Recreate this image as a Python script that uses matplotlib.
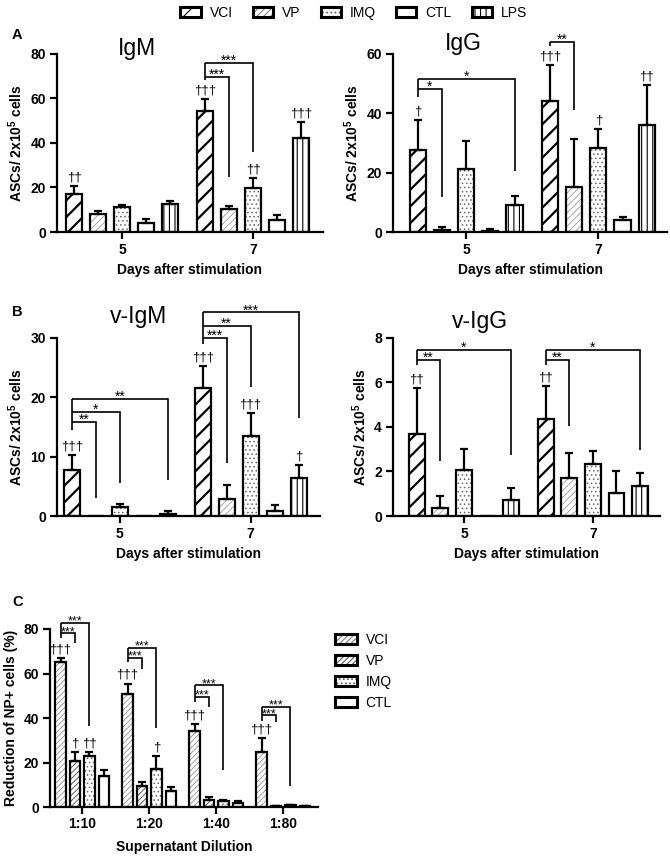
import matplotlib
matplotlib.use('Agg')
import matplotlib.pyplot as plt
import numpy as np
from matplotlib.patches import Patch
from matplotlib.legend_handler import HandlerTuple

plt.rcParams['font.family'] = ['Liberation Sans', 'DejaVu Sans']
plt.rcParams['mathtext.fontset'] = 'custom'
plt.rcParams['mathtext.rm'] = 'Liberation Sans'
plt.rcParams['mathtext.bf'] = 'Liberation Sans:bold'
plt.rcParams['hatch.linewidth'] = 0.8

# ---------------- data ----------------
series_ab = ['VCI', 'VP', 'IMQ', 'CTL', 'LPS']
days = ['5', '7']

igm_mean = [[17.0, 8.0, 11.3, 4.0, 12.7], [54.5, 10.5, 19.7, 5.2, 42.3]]
igm_err = [[3.5, 1.3, 0.8, 2.0, 1.3], [5.2, 1.3, 4.6, 2.6, 7.1]]

igg_mean = [[27.5, 0.8, 21.2, 0.5, 9.0], [44.0, 15.0, 28.3, 4.0, 35.9]]
igg_err = [[10.3, 1.0, 9.6, 0.5, 3.2], [12.3, 16.4, 6.4, 1.2, 13.6]]

vigm_mean = [[7.8, 0.0, 1.5, 0.0, 0.4], [21.5, 2.8, 13.5, 0.8, 6.4]]
vigm_err = [[2.4, 0.0, 0.5, 0.0, 0.5], [3.8, 2.4, 3.8, 1.0, 2.2]]

vigg_mean = [[3.7, 0.35, 2.05, 0.0, 0.7], [4.35, 1.7, 2.35, 1.03, 1.35]]
vigg_err = [[2.05, 0.55, 0.95, 0.0, 0.55], [1.5, 1.13, 0.57, 0.97, 0.57]]

series_c = ['VCI', 'VP', 'IMQ', 'CTL']
dilutions = ['1:10', '1:20', '1:40', '1:80']
red_mean = [[65.0, 20.7, 23.0, 13.8], [51.0, 9.3, 17.3, 7.3],
            [34.0, 3.0, 2.7, 2.0], [24.8, 0.3, 0.7, 0.4]]
red_err = [[2.0, 3.9, 1.8, 2.7], [4.5, 2.0, 5.7, 1.5],
           [3.3, 1.6, 0.5, 0.8], [6.2, 0.15, 0.2, 0.15]]

# daggers: (group, series, text)
igm_dag = [(0, 0, '††'), (1, 0, '†††'), (1, 2, '††'), (1, 4, '†††')]
igg_dag = [(0, 0, '†'), (1, 0, '†††'), (1, 2, '†'), (1, 4, '††')]
vigm_dag = [(0, 0, '†††'), (1, 0, '†††'), (1, 2, '†††'), (1, 4, '†')]
vigg_dag = [(0, 0, '††'), (1, 0, '††')]
red_dag = [(0, 0, '†††'), (0, 1, '†'), (0, 2, '††'), (1, 0, '†††'), (1, 2, '†'),
           (2, 0, '†††'), (3, 0, '†††')]

# brackets: (group, target series, level, right end, label); left drops: (group, low)
igm_br = [(1, 1, 69.6, 24.8, '***'), (1, 2, 76.0, 36.0, '***')]
igm_low = [(1, 68.4)]
igg_br = [(0, 1, 48.2, 11.8, '*'), (0, 4, 51.6, 20.5, '*'), (1, 1, 64.2, 41.1, '**')]
igg_low = [(0, 45.4), (1, 62.8)]
vigm_br = [(0, 1, 15.8, 3.0, '**'), (0, 2, 17.6, 5.5, '*'), (0, 4, 19.7, 6.1, '**'),
           (1, 1, 30.0, 8.9, '***'), (1, 2, 32.0, 21.8, '**'), (1, 4, 34.3, 16.5, '***')]
vigm_low = [(0, 14.5), (1, 29.0)]
vigg_br = [(0, 1, 7.0, 2.45, '**'), (0, 4, 7.47, 2.75, '*'),
           (1, 1, 7.0, 4.05, '**'), (1, 4, 7.47, 2.95, '*')]
vigg_low = [(0, 6.8), (1, 6.8)]
red_br = [(0, 1, 78.0, 73.7, '***'), (0, 2, 82.8, 36.3, '***'),
          (1, 1, 67.0, 62.2, '***'), (1, 2, 71.5, 35.5, '***'),
          (2, 1, 49.6, 45.0, '***'), (2, 2, 54.8, 16.8, '***'),
          (3, 1, 41.3, 38.3, '***'), (3, 2, 45.1, 9.3, '***')]
red_low = [(0, 76.0), (1, 65.0), (2, 47.3), (3, 38.5)]

# ---------------- styles ----------------
LW = 1.6
style_ab = {
    'VCI': dict(hatch='//', hc='black', hlw=1.6),
    'VP': dict(hatch='/////', hc='#8a8a8a', hlw=0.5),
    'IMQ': dict(hatch='....', hc='#666666', hlw=0.6),
    'CTL': dict(hatch=None, hc='black', hlw=0.5),
    'LPS': dict(hatch='|||', hc='black', hlw=0.8),
}
style_c = {
    'VCI': dict(hatch='//////', hc='#808080', hlw=0.5),
    'VP': dict(hatch='//////', hc='#606060', hlw=0.7),
    'IMQ': dict(hatch='....', hc='#666666', hlw=0.6),
    'CTL': dict(hatch=None, hc='black', hlw=0.5),
}


def set_hlw(patch, lw):
    if hasattr(patch, 'set_hatch_linewidth'):
        patch.set_hatch_linewidth(lw)


def draw_panel(ax, means, errs, names, styles, offsets, width):
    ng = len(means)
    for s, name in enumerate(names):
        st = styles[name]
        xs = np.arange(ng) + offsets[s]
        vals = np.array([means[g][s] for g in range(ng)])
        es = np.array([errs[g][s] for g in range(ng)])
        if st['hatch']:
            bars = ax.bar(xs, vals, width, color='white', edgecolor=st['hc'],
                          hatch=st['hatch'], linewidth=0, zorder=2)
            for p in bars:
                set_hlw(p, st['hlw'])
        else:
            ax.bar(xs, vals, width, color='white', linewidth=0, zorder=2)
        ax.bar(xs, vals, width, fill=False, edgecolor='black', linewidth=LW, zorder=3)
        m = es > 0
        ax.errorbar(xs[m], vals[m], yerr=[np.zeros(m.sum()), es[m]], fmt='none',
                    ecolor='black', elinewidth=LW, capsize=3.2, capthick=LW, zorder=4)


def draw_daggers(ax, means, errs, offsets, dags, fs=9.5):
    for g, s, t in dags:
        x = g + offsets[s]
        y = means[g][s] + errs[g][s]
        ax.annotate(t, xy=(x, y), xytext=(0, 2), textcoords='offset points',
                    ha='center', va='bottom', fontsize=fs, annotation_clip=False)


def draw_brackets(ax, offsets, brs, lows, fs=10):
    for g, low in lows:
        top = max(b[2] for b in brs if b[0] == g)
        x0 = g + offsets[0]
        ax.plot([x0, x0], [low, top], color='black', lw=1.2, clip_on=False,
                solid_capstyle='butt')
    for g, t, h, e, lab in brs:
        x0 = g + offsets[0]
        x1 = g + offsets[t]
        ax.plot([x0, x1, x1], [h, h, e], color='black', lw=1.2, clip_on=False,
                solid_capstyle='butt', solid_joinstyle='miter')
        ax.annotate(lab, xy=((x0 + x1) / 2, h), xytext=(0, -3.5), textcoords='offset points',
                    ha='center', va='bottom', fontsize=fs, annotation_clip=False)


def style_axes(ax, xlim, ylim, yticks, xticks, xlabels):
    ax.set_xlim(*xlim)
    ax.set_ylim(*ylim)
    ax.set_yticks(yticks)
    ax.set_xticks(xticks)
    ax.set_xticklabels(xlabels)
    for sp in ['top', 'right']:
        ax.spines[sp].set_visible(False)
    for sp in ['left', 'bottom']:
        ax.spines[sp].set_linewidth(1.6)
    ax.tick_params(axis='both', direction='out', length=5, width=1.6, labelsize=10, pad=3)
    for lab in ax.get_xticklabels() + ax.get_yticklabels():
        lab.set_fontweight('bold')


fig = plt.figure(figsize=(6.7, 8.58), dpi=100)

off_ab = (np.arange(5) - 2) * 0.183
w_ab = 0.122
off_c = (np.arange(4) - 1.5) * 0.215
w_c = 0.155

ylab = r'ASCs/ 2x10$^{\mathbf{5}}$ cells'

panels = [
    ([0.085, 0.7296, 0.397, 0.2075], igm_mean, igm_err, igm_dag, igm_br, igm_low,
     (-0.496, 1.53), (0, 80), [0, 20, 40, 60, 80], 'IgM', (0.23, 1.03)),
    ([0.5866, 0.7296, 0.409, 0.2075], igg_mean, igg_err, igg_dag, igg_br, igg_low,
     (-0.553, 1.52), (0, 60), [0, 20, 40, 60], 'IgG', (0.19, 1.06)),
    ([0.085, 0.3986, 0.3926, 0.2075], vigm_mean, vigm_err, vigm_dag, vigm_br, vigm_low,
     (-0.48, 1.53), (0, 30), [0, 10, 20, 30], 'v-IgM', (0.2, 1.118)),
    ([0.5866, 0.3986, 0.3984, 0.2075], vigg_mean, vigg_err, vigg_dag, vigg_br, vigg_low,
     (-0.55, 1.52), (0, 8), [0, 2, 4, 6, 8], 'v-IgG', (0.22, 1.095)),
]

for rect, mean, err, dag, br, low, xl, yl, yt, title, tpos in panels:
    ax = fig.add_axes(rect)
    draw_panel(ax, mean, err, series_ab, style_ab, off_ab, w_ab)
    draw_daggers(ax, mean, err, off_ab, dag)
    draw_brackets(ax, off_ab, br, low)
    style_axes(ax, xl, yl, yt, [0, 1], days)
    ax.set_xlabel('Days after stimulation', fontsize=10, fontweight='bold', labelpad=4)
    ax.set_ylabel(ylab, fontsize=10, fontweight='bold', labelpad=4)
    ax.text(tpos[0], tpos[1], title, transform=ax.transAxes, fontsize=16.5,
            ha='left', va='center')

axc = fig.add_axes([0.0746, 0.0594, 0.4, 0.2075])
draw_panel(axc, red_mean, red_err, series_c, style_c, off_c, w_c)
draw_daggers(axc, red_mean, red_err, off_c, red_dag)
draw_brackets(axc, off_c, red_br, red_low, fs=9)
style_axes(axc, (-0.48, 3.52), (0, 80), [0, 20, 40, 60, 80], [0, 1, 2, 3], dilutions)
axc.tick_params(axis='x', pad=2)
axc.set_xlabel('Supernatant Dilution', fontsize=10, fontweight='bold', labelpad=7)
axc.set_ylabel('Reduction of NP+ cells (%)', fontsize=10, fontweight='bold', labelpad=4)

# panel letters
for lab, y in [('A', 35), ('B', 312), ('C', 602)]:
    fig.text(12 / 670, 1 - y / 858, lab, fontsize=10.5, fontweight='bold', ha='left', va='center')


def make_handle(st):
    parts = []
    if st['hatch']:
        p = Patch(facecolor='white', edgecolor=st['hc'], hatch=st['hatch'], linewidth=0)
        set_hlw(p, st['hlw'])
        parts.append(p)
    parts.append(Patch(facecolor='none', edgecolor='black', linewidth=2.2))
    return tuple(parts)


top_handles = [make_handle(style_ab[n]) for n in series_ab]
fig.legend(top_handles, series_ab, loc='center', bbox_to_anchor=(0.528, 1 - 13 / 858),
           ncol=5, frameon=False, fontsize=10, handlelength=1.45, handleheight=0.75,
           handletextpad=0.65, columnspacing=1.45,
           handler_map={tuple: HandlerTuple(ndivide=1, pad=0)})

c_handles = [make_handle(style_c[n]) for n in series_c]
fig.legend(c_handles, series_c, loc='upper left', bbox_to_anchor=(0.5, 1 - 633 / 858),
           frameon=False, fontsize=10, handlelength=1.55, handleheight=0.75,
           handletextpad=0.65, labelspacing=0.5, borderpad=0, borderaxespad=0,
           handler_map={tuple: HandlerTuple(ndivide=1, pad=0)})

fig.savefig('out.png', dpi=100)
